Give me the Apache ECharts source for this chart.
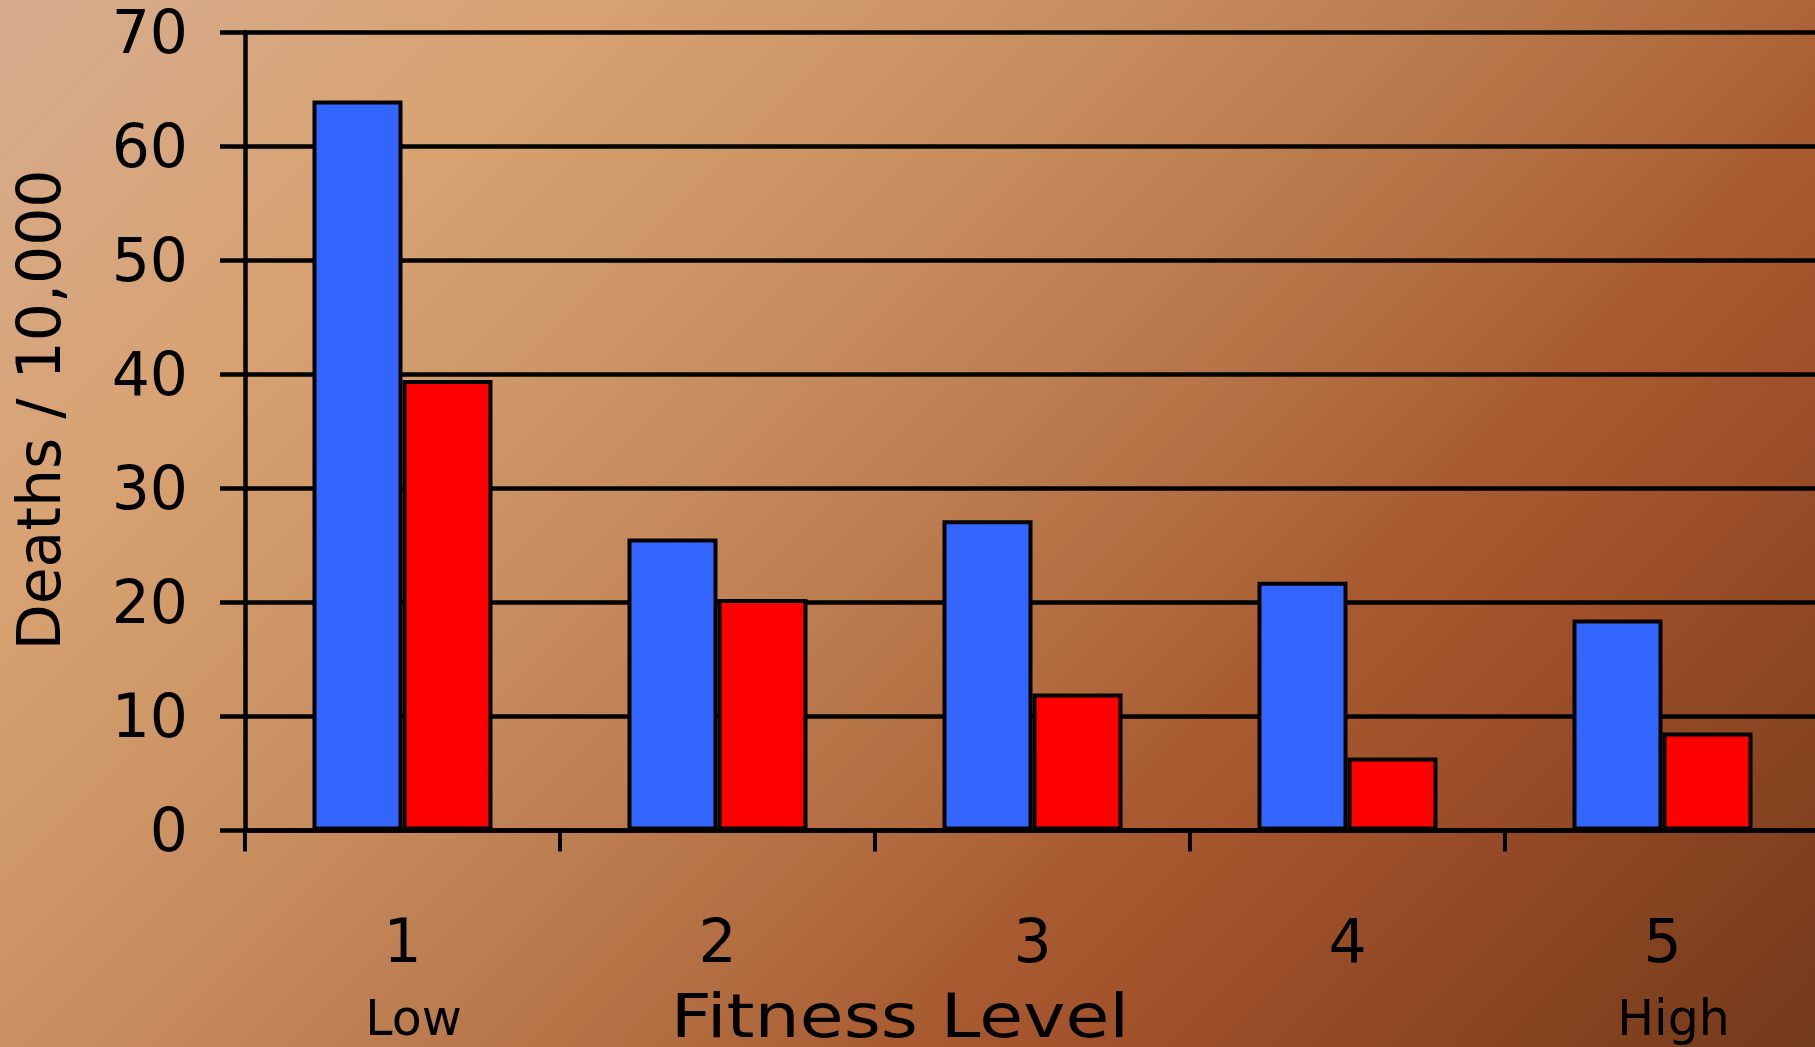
<!DOCTYPE html>
<html>
<head>
<meta charset="utf-8">
<title>Deaths per 10,000 by Fitness Level</title>
<script src="https://cdn.jsdelivr.net/npm/echarts@6/dist/echarts.min.js"></script>
<style>
  html, body { margin: 0; padding: 0; width: 100%; height: 100%; overflow: hidden; }
  /* a little wider than the window so the last category runs off the right edge */
  #chart { width: 1840px; height: 1047px; }
</style>
</head>
<body>
<div id="chart"></div>
<script>
// Fitness level categories and their end-of-scale notes
const levels = ['1', '2', '3', '4', '5'];
const levelNotes = ['Low', '', '', '', 'High'];

// Death rates per 10,000 for the two groups
const blueSeries = [64, 25.6, 27.2, 21.8, 18.5];
const redSeries = [39.5, 20.3, 12.0, 6.4, 8.6];

// Value axis range
const yMin = 0;
const yMax = 70;
const yStep = 10;

const FONT = 'DejaVu Sans';

const chart = echarts.init(document.getElementById('chart'), null, { renderer: 'canvas' });

const option = {
  animation: false,
  backgroundColor: {
    type: 'linear',
    global: true,
    x: 0, y: 0, x2: 1431, y2: 1431,
    colorStops: [
      { offset: 0.00, color: '#D6AC8E' },
      { offset: 0.20, color: '#D8A272' },
      { offset: 0.30, color: '#CF9868' },
      { offset: 0.40, color: '#C78C5E' },
      { offset: 0.50, color: '#BC7D50' },
      { offset: 0.61, color: '#B06A3E' },
      { offset: 0.68, color: '#A85A30' },
      { offset: 0.75, color: '#A2522A' },
      { offset: 0.82, color: '#944A26' },
      { offset: 0.91, color: '#84421F' },
      { offset: 1.00, color: '#733A1C' }
    ]
  },
  grid: { left: 245, top: 32, width: 1575, height: 800, containLabel: false },
  xAxis: {
    type: 'category',
    data: levels,
    boundaryGap: true,
    axisLine: { show: true, lineStyle: { color: '#000', width: 4.5 } },
    axisTick: { show: true, length: 21, lineStyle: { color: '#000', width: 4 } },
    axisLabel: {
      margin: 76,
      interval: 0,
      formatter: function (value, idx) {
        return '{d|' + value + '}\n{s|' + (levelNotes[idx] || ' ') + '}';
      },
      rich: {
        d: { fontFamily: FONT, fontSize: 60, color: '#000', lineHeight: 80 },
        s: { fontFamily: FONT, fontSize: 49, color: '#000', lineHeight: 72, padding: [0, 0, 0, 22] }
      }
    },
    splitLine: { show: false }
  },
  yAxis: {
    type: 'value',
    min: yMin,
    max: yMax,
    interval: yStep,
    axisLine: { show: true, lineStyle: { color: '#000', width: 4.5 } },
    axisTick: { show: true, length: 25, lineStyle: { color: '#000', width: 4.5 } },
    axisLabel: {
      margin: 57,
      fontFamily: FONT,
      fontSize: 60,
      color: '#000',
      verticalAlign: 'top',
      lineHeight: 10
    },
    splitLine: { show: true, lineStyle: { color: '#000', width: 4.5 } }
  },
  series: [
    {
      name: 'Blue group',
      type: 'bar',
      data: blueSeries,
      barWidth: 90,
      barGap: '0%',
      itemStyle: { color: '#3366FF', borderColor: '#000', borderWidth: 4 },
      z: 3
    },
    {
      name: 'Red group',
      type: 'bar',
      data: redSeries,
      barWidth: 90,
      barGap: '0%',
      itemStyle: { color: '#FF0000', borderColor: '#000', borderWidth: 4 },
      z: 3
    }
  ],
  graphic: [
    {
      type: 'text',
      x: 44,
      y: 410,
      rotation: Math.PI / 2,
      style: {
        text: 'Deaths / 10,000',
        fontFamily: FONT,
        fontSize: 60,
        fill: '#000',
        align: 'center',
        verticalAlign: 'middle',
        textAlign: 'center',
        textVerticalAlign: 'middle'
      }
    },
    {
      type: 'text',
      x: 900,
      y: 1021,
      scaleX: 1.17,
      style: {
        text: 'Fitness Level',
        fontFamily: FONT,
        fontSize: 61,
        fill: '#000',
        align: 'center',
        verticalAlign: 'middle',
        textAlign: 'center',
        textVerticalAlign: 'middle'
      }
    }
  ]
};

chart.setOption(option);
</script>
</body>
</html>
